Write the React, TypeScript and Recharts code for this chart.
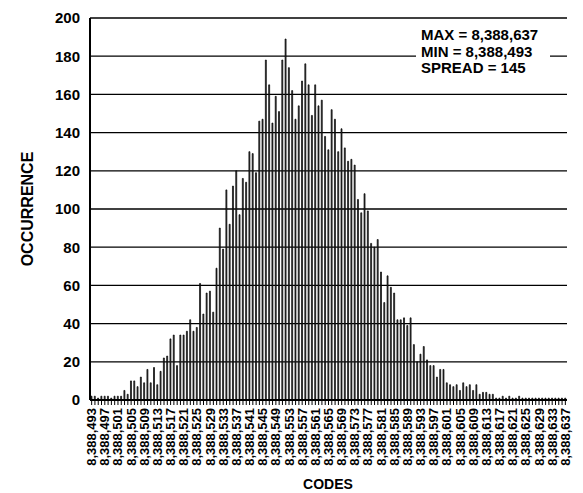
import { BarChart, Bar, XAxis, YAxis, CartesianGrid, Label } from 'recharts';

const FIRST_CODE = 8388493;

// occurrences per code, 8,388,493 .. 8,388,637 (145 codes)
const counts = [
  2, 2, 1, 2, 2, 2, 1, 2, 2, 2,
  5, 3, 10, 10, 7, 12, 9, 16, 9, 17,
  8, 15, 22, 23, 32, 34, 18, 34, 34, 36,
  42, 36, 38, 61, 45, 56, 57, 46, 69, 90,
  79, 110, 92, 112, 120, 97, 116, 114, 130, 129,
  119, 146, 147, 178, 165, 145, 159, 151, 178, 189,
  174, 162, 147, 154, 167, 176, 165, 149, 165, 154,
  157, 138, 131, 152, 147, 130, 142, 132, 125, 126,
  123, 105, 98, 108, 99, 82, 80, 84, 67, 51,
  65, 59, 56, 42, 42, 43, 39, 43, 29, 20,
  24, 28, 21, 18, 18, 12, 16, 16, 9, 8,
  7, 8, 5, 9, 7, 8, 5, 8, 3, 4,
  4, 3, 3, 1, 1, 2, 1, 2, 1, 1,
  2, 1, 1, 1, 1, 1, 1, 1, 1, 1,
  1, 1, 1, 1, 1,
];

const codes = counts.map((_, i) => FIRST_CODE + i);
const yTicks = [0, 20, 40, 60, 80, 100, 120, 140, 160, 180, 200];
const statLines = ['MAX = 8,388,637', 'MIN = 8,388,493', 'SPREAD = 145'];

const data = codes.map((code, i) => ({ code, count: counts[i] }));

const FONT = 'Arial, "Liberation Sans", Helvetica, sans-serif';

const CodeTick = (props: any) => {
  const { x, y, payload } = props;
  const v = payload.value as number;
  if ((v - FIRST_CODE) % 4 !== 0) return <g />;
  return (
    <text
      x={x}
      y={y}
      transform={`rotate(-90 ${x} ${y})`}
      textAnchor="end"
      dominantBaseline="central"
      fontFamily={FONT}
      fontWeight="bold"
      fontSize={13}
      fill="#000"
    >
      {v.toLocaleString('en-US')}
    </text>
  );
};

export default function App() {
  return (
    <div
      style={{
        position: 'absolute',
        left: 0,
        top: 0,
        width: 583,
        height: 493,
        background: '#fff',
        fontFamily: FONT,
      }}
    >
      <BarChart
        width={583}
        height={493}
        data={data}
        margin={{ top: 18, right: 16, left: 0, bottom: 0 }}
        barCategoryGap={1}
      >
        <CartesianGrid vertical={false} stroke="#000" strokeWidth={1.3} />
        <XAxis
          dataKey="code"
          interval={0}
          height={93}
          tick={<CodeTick />}
          tickSize={5}
          tickMargin={3}
          tickLine={{ stroke: '#000', strokeWidth: 1 }}
          axisLine={{ stroke: '#000', strokeWidth: 2 }}
        >
          <Label
            content={() => (
              <text
                x={328}
                y={489}
                textAnchor="middle"
                fontFamily={FONT}
                fontWeight="bold"
                fontSize={14}
                fill="#000"
              >
                CODES
              </text>
            )}
          />
        </XAxis>
        <XAxis
          xAxisId="top"
          dataKey="code"
          orientation="top"
          height={0}
          tick={false}
          tickLine={false}
          axisLine={{ stroke: '#000', strokeWidth: 2 }}
        />
        <YAxis
          domain={[0, 200]}
          ticks={yTicks}
          width={90}
          tickSize={0}
          tickMargin={10}
          tickLine={false}
          axisLine={{ stroke: '#000', strokeWidth: 2 }}
          tick={{ fill: '#000', fontFamily: FONT, fontWeight: 'bold', fontSize: 15 }}
        >
          <Label
            content={() => (
              <text
                x={27}
                y={209}
                transform="rotate(-90 27 209)"
                textAnchor="middle"
                dominantBaseline="central"
                fontFamily={FONT}
                fontWeight="bold"
                fontSize={16}
                fill="#000"
              >
                OCCURRENCE
              </text>
            )}
          />
        </YAxis>
        <YAxis
          yAxisId="right"
          orientation="right"
          domain={[0, 200]}
          width={0}
          tick={false}
          tickLine={false}
          axisLine={{ stroke: '#000', strokeWidth: 2 }}
        />
        <Bar
          dataKey="count"
          fill="#3a3a3a"
          stroke="#000"
          strokeWidth={0.7}
          isAnimationActive={false}
        />
      </BarChart>
      {/* stats box sits on top of the 180 gridline */}
      <div
        style={{
          position: 'absolute',
          left: 416,
          top: 27,
          width: 134,
          paddingLeft: 5,
          background: '#fff',
          fontWeight: 'bold',
          fontSize: 15,
          lineHeight: '16.5px',
          color: '#000',
          boxSizing: 'border-box',
          zIndex: 10,
        }}
      >
        {statLines.map((s) => (
          <div key={s}>{s}</div>
        ))}
      </div>
    </div>
  );
}
